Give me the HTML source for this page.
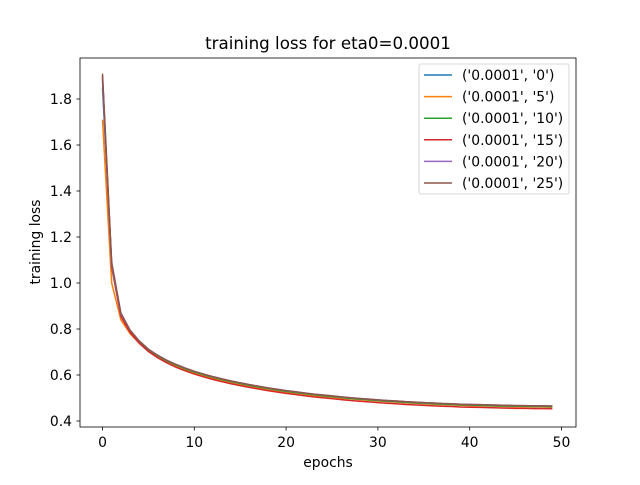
<!DOCTYPE html>
<html><head><meta charset="utf-8"><style>
body{margin:0;background:#fff}
svg text{font-family:"DejaVu Sans","Liberation Sans",sans-serif;fill:#000}
</style></head><body>
<svg id="chart" width="640" height="480" xmlns="http://www.w3.org/2000/svg">
<rect width="640" height="480" fill="#fff"/>
<text x="328" y="49" font-size="16.7" text-anchor="middle">training loss for eta0=0.0001</text>
<text x="328" y="467" font-size="13.9" text-anchor="middle">epochs</text>
<text transform="translate(40,242) rotate(-90)" font-size="13.9" text-anchor="middle">training loss</text>
<g id="plot"></g>
<rect x="80" y="58" width="496" height="369" fill="none" stroke="#000" stroke-width="0.8"/>
<g id="legend"></g>
</svg>
<script>
const seriesNames=["('0.0001', '0')","('0.0001', '5')","('0.0001', '10')","('0.0001', '15')","('0.0001', '20')","('0.0001', '25')"];
const colors=["#1f77b4","#ff7f0e","#2ca02c","#d62728","#9467bd","#8c564b"];
const xTicks=[0,10,20,30,40,50];
const yTicks=[0.4,0.6,0.8,1.0,1.2,1.4,1.6,1.8];
const s0=[1.85,1.08,0.86,0.79,0.745,0.71,0.685,0.663,0.645,0.629,0.615,0.603,0.592,0.582,0.573,0.565,0.557,0.55,0.543,0.537,0.531,0.526,0.521,0.516,0.512,0.508,0.504,0.5,0.497,0.494,0.491,0.488,0.486,0.483,0.481,0.479,0.477,0.475,0.474,0.472,0.471,0.47,0.469,0.468,0.467,0.466,0.466,0.465,0.465,0.464];
const s5=[1.71,1.0,0.84,0.78,0.738,0.703,0.678,0.657,0.639,0.623,0.609,0.597,0.586,0.576,0.567,0.559,0.551,0.544,0.538,0.532,0.526,0.521,0.516,0.511,0.507,0.503,0.499,0.496,0.493,0.49,0.487,0.484,0.482,0.479,0.477,0.475,0.473,0.471,0.47,0.468,0.467,0.466,0.465,0.464,0.463,0.462,0.462,0.461,0.461,0.46];
const s10=[1.89,1.07,0.86,0.79,0.744,0.709,0.683,0.661,0.643,0.627,0.613,0.601,0.59,0.58,0.571,0.563,0.555,0.548,0.541,0.535,0.529,0.524,0.519,0.514,0.51,0.506,0.502,0.498,0.495,0.492,0.489,0.486,0.484,0.481,0.479,0.477,0.475,0.473,0.472,0.47,0.469,0.468,0.467,0.466,0.465,0.464,0.464,0.463,0.463,0.462];
const s15=[1.9,1.07,0.855,0.785,0.738,0.702,0.675,0.653,0.634,0.618,0.604,0.592,0.581,0.571,0.562,0.554,0.546,0.539,0.532,0.526,0.52,0.515,0.51,0.505,0.501,0.497,0.493,0.489,0.486,0.483,0.48,0.477,0.475,0.472,0.47,0.468,0.466,0.464,0.463,0.461,0.46,0.459,0.458,0.457,0.456,0.455,0.455,0.454,0.454,0.453];
const s20=[1.88,1.08,0.865,0.795,0.748,0.712,0.686,0.664,0.646,0.63,0.616,0.604,0.593,0.583,0.574,0.566,0.558,0.551,0.544,0.538,0.532,0.527,0.522,0.517,0.513,0.509,0.505,0.501,0.498,0.495,0.492,0.489,0.487,0.484,0.482,0.48,0.478,0.476,0.475,0.473,0.472,0.471,0.47,0.469,0.468,0.467,0.467,0.466,0.466,0.465];
const s25=[1.91,1.09,0.87,0.795,0.748,0.712,0.686,0.664,0.646,0.63,0.616,0.604,0.593,0.583,0.574,0.566,0.558,0.551,0.544,0.538,0.532,0.527,0.522,0.517,0.513,0.509,0.505,0.501,0.498,0.495,0.492,0.489,0.487,0.484,0.482,0.48,0.478,0.476,0.475,0.473,0.472,0.471,0.47,0.469,0.468,0.467,0.467,0.466,0.466,0.465];
const allSeries=[s0,s5,s10,s15,s20,s25];
const NS="http://www.w3.org/2000/svg";
function xs(v){return 102.5+v*9.18;}
function ys(v){return 421-(v-0.4)*230;}
const plot=document.getElementById('plot');
function mk(tag,attrs,parent){const e=document.createElementNS(NS,tag);for(const k in attrs)e.setAttribute(k,attrs[k]);parent.appendChild(e);return e;}
xTicks.forEach(t=>{
  const l=mk('line',{x1:xs(t),x2:xs(t),y1:427,y2:430.5,stroke:'#000','stroke-width':0.8},plot);
  
  
  const tx=mk('text',{x:xs(t),y:447,'font-size':13.9,'text-anchor':'middle'},plot);tx.textContent=t;
  
  
});
yTicks.forEach(t=>{
  const l=mk('line',{x1:76.5,x2:80,y1:ys(t),y2:ys(t),stroke:'#000','stroke-width':0.8},plot);
  
  
  const tx=mk('text',{x:72,y:ys(t)+5,'font-size':13.9,'text-anchor':'end'},plot);tx.textContent=t.toFixed(1);
  
  
});
allSeries.forEach((s,i)=>{
  const d=s.map((v,j)=>(j?'L':'M')+xs(j).toFixed(2)+','+ys(v).toFixed(2)).join('');
  const p=mk('path',{d:d,fill:'none',stroke:colors[i],'stroke-width':1.5},plot);
  
  
});
const lg=document.getElementById('legend');
const box=mk('rect',{x:419,y:64,width:150,height:130,rx:2,fill:'#fff','fill-opacity':0.8,stroke:'#ccc','stroke-width':0.8},lg);


seriesNames.forEach((n,i)=>{
  const y=75+i*21.6;
  const l=mk('line',{x1:424,x2:452,y1:y,y2:y,stroke:colors[i],'stroke-width':1.5},lg);
  
  
  const t=mk('text',{x:462,y:y+5,'font-size':13.9},lg);t.textContent=n;
  
  
});
</script>
</body></html>
